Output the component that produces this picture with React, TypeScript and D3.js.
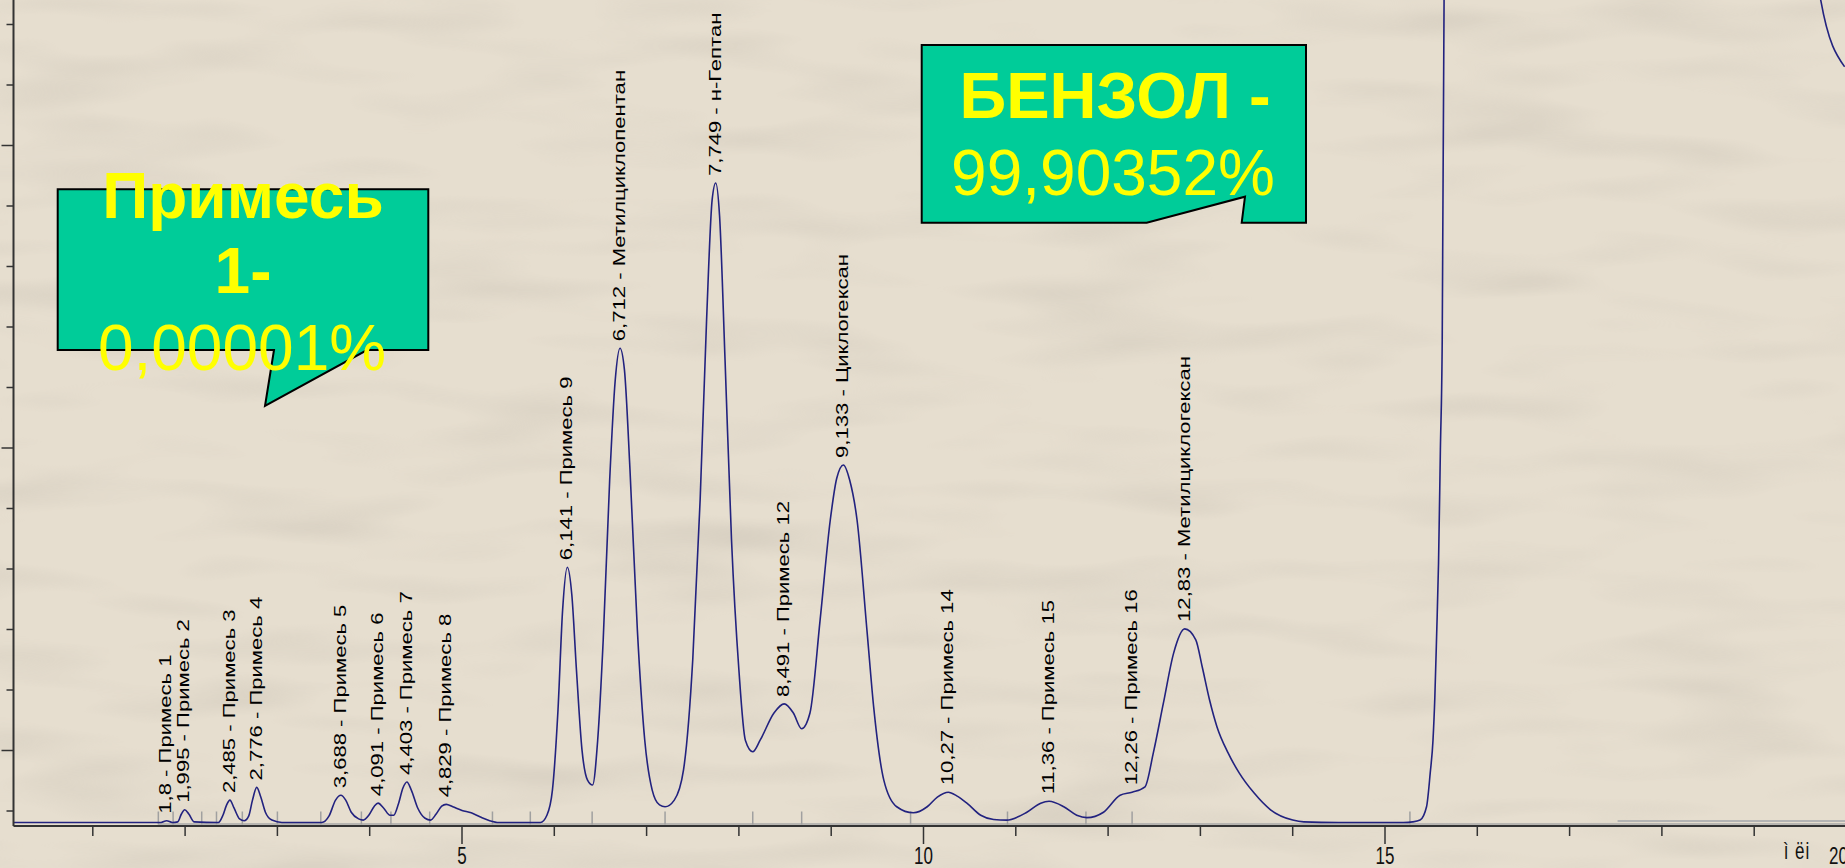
import React from "react";
import * as d3 from "d3";

const W = 1845;
const H = 868;

// chromatogram trace: time (min) and detector signal (axis units)
const traceTime = [
  0.14, 1.74, 1.8, 1.86, 1.92, 1.96, 1.995, 2.04, 2.1, 2.36, 2.41, 2.45, 2.485, 2.53, 2.59, 2.64,
  2.69, 2.73, 2.776, 2.82, 2.87, 2.94, 3.05, 3.48, 3.56, 3.63, 3.688, 3.74, 3.8, 3.88, 3.93, 3.99,
  4.05, 4.091, 4.15, 4.22, 4.26, 4.31, 4.36, 4.403, 4.45, 4.52, 4.6, 4.66, 4.72, 4.78, 4.829, 4.9,
  5.0, 5.1, 5.2, 5.3, 5.4, 5.85, 5.92, 5.98, 6.04, 6.09, 6.141, 6.19, 6.24, 6.3, 6.36, 6.415,
  6.47, 6.53, 6.6, 6.66, 6.712, 6.76, 6.82, 6.9, 6.98, 7.06, 7.14, 7.2, 7.3, 7.4, 7.5, 7.58,
  7.65, 7.71, 7.749, 7.79, 7.85, 7.92, 8.0, 8.07, 8.15, 8.23, 8.38, 8.491, 8.59, 8.68, 8.77, 8.88,
  8.99, 9.06, 9.133, 9.2, 9.28, 9.39, 9.46, 9.57, 9.71, 9.89, 10.04, 10.15, 10.27, 10.36, 10.47, 10.62,
  10.76, 10.9, 11.12, 11.27, 11.36, 11.52, 11.66, 11.77, 11.95, 12.13, 12.26, 12.4, 12.49, 12.6, 12.71, 12.83,
  12.95, 13.02, 13.1, 13.18, 13.3, 13.42, 13.58, 13.76, 14.0, 14.12, 14.5, 15.2, 15.3, 15.38, 15.45, 15.49,
  15.52, 15.54, 15.56, 15.58, 15.6, 15.62, 15.64, 15.8, 17.5, 19.3, 19.6, 19.72, 19.98,
];
const traceSignal = [
  -1.19, -1.19, -1.16, -1.19, -1.18, -1.05, -0.98, -1.05, -1.18, -1.19, -1.07, -0.9, -0.82, -0.95, -1.13, -1.16,
  -1.08, -0.82, -0.61, -0.77, -1.02, -1.15, -1.19, -1.19, -1.08, -0.82, -0.74, -0.82, -1.02, -1.13, -1.15, -1.07,
  -0.92, -0.87, -0.95, -1.07, -1.07, -0.89, -0.62, -0.52, -0.65, -0.95, -1.12, -1.15, -1.05, -0.92, -0.89, -0.93,
  -0.99, -1.03, -1.1, -1.16, -1.19, -1.19, -1.07, -0.65, 0.67, 2.32, 3.03, 2.57, 1.33, 0.01, -0.49, -0.57,
  0.17, 1.83, 4.47, 6.12, 6.65, 6.29, 4.64, 1.99, 0.17, -0.65, -0.9, -0.93, -0.82, -0.32, 1.5, 4.14,
  7.12, 9.1, 9.38, 8.85, 6.45, 3.48, 1.33, 0.17, -0.02, 0.17, 0.62, 0.77, 0.62, 0.36, 0.62, 2.16,
  3.81, 4.5, 4.72, 4.47, 3.81, 1.94, 0.72, -0.49, -0.93, -1.03, -0.93, -0.77, -0.69, -0.75, -0.87, -1.07,
  -1.14, -1.15, -1.02, -0.87, -0.84, -0.93, -1.07, -1.11, -1.02, -0.74, -0.69, -0.6, -0.04, 0.79, 1.61, 2.01,
  1.83, 1.38, 0.83, 0.39, -0.04, -0.37, -0.7, -0.98, -1.15, -1.18, -1.19, -1.19, -1.18, -1.15, -0.93, -0.37,
  0.17, 0.88, 1.94, 3.1, 4.97, 6.79, 12.41, 25, 40, 25, 17, 12.41, 11.3,
];

const peakTimes = [1.8, 1.995, 2.485, 2.776, 3.688, 4.091, 4.403, 4.829, 6.141, 6.712, 7.749, 8.491, 9.133, 10.27, 11.36, 12.26, 12.83];
const peakLabels = [
  "1,8 - Примесь 1",
  "1,995 - Примесь 2",
  "2,485 - Примесь 3",
  "2,776 - Примесь 4",
  "3,688 - Примесь 5",
  "4,091 - Примесь 6",
  "4,403 - Примесь 7",
  "4,829 - Примесь 8",
  "6,141 - Примесь 9",
  "6,712 - Метилциклопентан",
  "7,749 - н-Гептан",
  "8,491 - Примесь 12",
  "9,133 - Циклогексан",
  "10,27 - Примесь 14",
  "11,36 - Примесь 15",
  "12,26 - Примесь 16",
  "12,83 - Метилциклогексан",
];

// integration start/end markers (grey)
const markerTimes = [1.71, 1.87, 2.18, 2.34, 2.62, 3.0, 3.47, 3.91, 4.23, 4.65, 5.33, 5.74, 6.41, 7.2, 8.15, 8.68, 9.86, 10.91, 11.76, 12.26, 15.27];

const xTickValues = [1, 2, 3, 4, 5, 6, 7, 8, 9, 10, 11, 12, 13, 14, 15, 16, 17, 18, 19, 20];
const xTickLabels = ["5", "10", "15", "20"];
const yTickValues = [-1, 0, 1, 2, 3, 4, 5, 6, 7, 8, 9, 10, 11, 12];
const xUnitLabel = "ì ëi";

const calloutImpurity = ["Примесь", "1-", "0,00001%"];
const calloutBenzene = ["БЕНЗОЛ -", "99,90352%"];

const FONT = "'Liberation Sans', Arial, sans-serif";

export default function App() {
  const x = d3.scaleLinear().domain([0, 20]).range([0.5, 1846.5]);
  const y = d3.scaleLinear().domain([0, 10]).range([750.5, 145.5]);
  const left = 13.5;
  const bottom = 826;
  const baseY = y(-1.19);

  const line = d3
    .line<number>()
    .x((_, i) => x(traceTime[i]))
    .y((d) => y(d))
    .curve(d3.curveMonotoneX);

  const textStretch = 1.38;

  return (
    <svg
      width={W}
      height={H}
      style={{ position: "absolute", left: 0, top: 0, display: "block" }}
      fontFamily={FONT}
    >
      <defs>
        <clipPath id="plot">
          <rect x={left} y={0} width={W - left} height={bottom} />
        </clipPath>
        <filter id="grain" x="0" y="0" width="100%" height="100%">
          <feTurbulence type="fractalNoise" baseFrequency="0.005 0.025" numOctaves={2} seed={7} />
          <feColorMatrix
            type="matrix"
            values="0 0 0 0 0.45  0 0 0 0 0.41  0 0 0 0 0.35  1.2 0 0 0 -0.58"
          />
        </filter>
      </defs>

      <rect width={W} height={H} fill="#e6decf" />
      <rect width={W} height={H} filter="url(#grain)" opacity={0.5} />

      {/* integration baseline and markers */}
      <line x1={x(1.71)} x2={W} y1={baseY + 1.5} y2={baseY + 1.5} stroke="#a9a9a9" strokeWidth={1.5} />
      <line x1={x(17.52)} x2={W} y1={baseY - 1.5} y2={baseY - 1.5} stroke="#b4b4b4" strokeWidth={2} />
      {markerTimes.map((t, i) => (
        <line key={i} x1={x(t)} x2={x(t)} y1={baseY - 11} y2={baseY + 2} stroke="#a0a0a0" strokeWidth={1.5} />
      ))}

      {/* trace */}
      <path
        d={line(traceSignal) ?? ""}
        fill="none"
        stroke="#22227f"
        strokeWidth={1.6}
        clipPath="url(#plot)"
      />

      {/* axes */}
      <line x1={left} x2={left} y1={0} y2={bottom} stroke="#333" strokeWidth={2} />
      <line x1={left} x2={W} y1={bottom} y2={bottom} stroke="#333" strokeWidth={2} />
      {yTickValues.map((v) => (
        <line
          key={v}
          x1={left - (v % 5 === 0 ? 12 : 7)}
          x2={left}
          y1={y(v)}
          y2={y(v)}
          stroke="#333"
          strokeWidth={1.5}
        />
      ))}
      {xTickValues.map((v) => (
        <line
          key={v}
          x1={x(v)}
          x2={x(v)}
          y1={bottom}
          y2={bottom + (v % 5 === 0 ? 18 : 10)}
          stroke="#333"
          strokeWidth={1.5}
        />
      ))}
      {xTickLabels.map((lab) => (
        <text
          key={lab}
          transform={`translate(${x(+lab) - (lab === "20" ? 8 : 0)},864) scale(1,${textStretch})`}
          textAnchor="middle"
          fontSize={17}
          fill="#111"
        >
          {lab}
        </text>
      ))}
      <text
        transform={`translate(1797,859) scale(1,${textStretch})`}
        textAnchor="middle"
        fontSize={17}
        letterSpacing={1}
        fill="#111"
      >
        {xUnitLabel}
      </text>

      {/* peak labels */}
      {peakTimes.map((t, i) => {
        const idx = d3.minIndex(traceTime, (d) => Math.abs(d - t));
        const ay = y(traceSignal[idx]) - 7;
        return (
          <text
            key={i}
            transform={`translate(${x(t)},${ay}) rotate(-90) scale(${textStretch},1)`}
            dy="0.3em"
            fontSize={16}
            fill="#000"
          >
            {peakLabels[i]}
          </text>
        );
      })}

      {/* callouts */}
      <path
        d="M57.7,189.3 H428.3 V350 H367 L265,406 L274,350 H57.7 Z"
        fill="#00cc99"
        stroke="#000"
        strokeWidth={2}
      />
      <g fill="#ffff00" fontSize={64} textAnchor="middle">
        <text x={243} y={218} fontWeight="bold">{calloutImpurity[0]}</text>
        <text x={243} y={293} fontWeight="bold">{calloutImpurity[1]}</text>
        <text x={242} y={370}>{calloutImpurity[2]}</text>
      </g>

      <path
        d="M921.7,45 H1306 V222.7 H1241.7 L1245,196.7 L1146.7,222.7 H921.7 Z"
        fill="#00cc99"
        stroke="#000"
        strokeWidth={2}
      />
      <g fill="#ffff00" textAnchor="middle">
        <text x={1115} y={118} fontSize={65} fontWeight="bold">{calloutBenzene[0]}</text>
        <text x={1113} y={195} fontSize={64}>{calloutBenzene[1]}</text>
      </g>
    </svg>
  );
}
